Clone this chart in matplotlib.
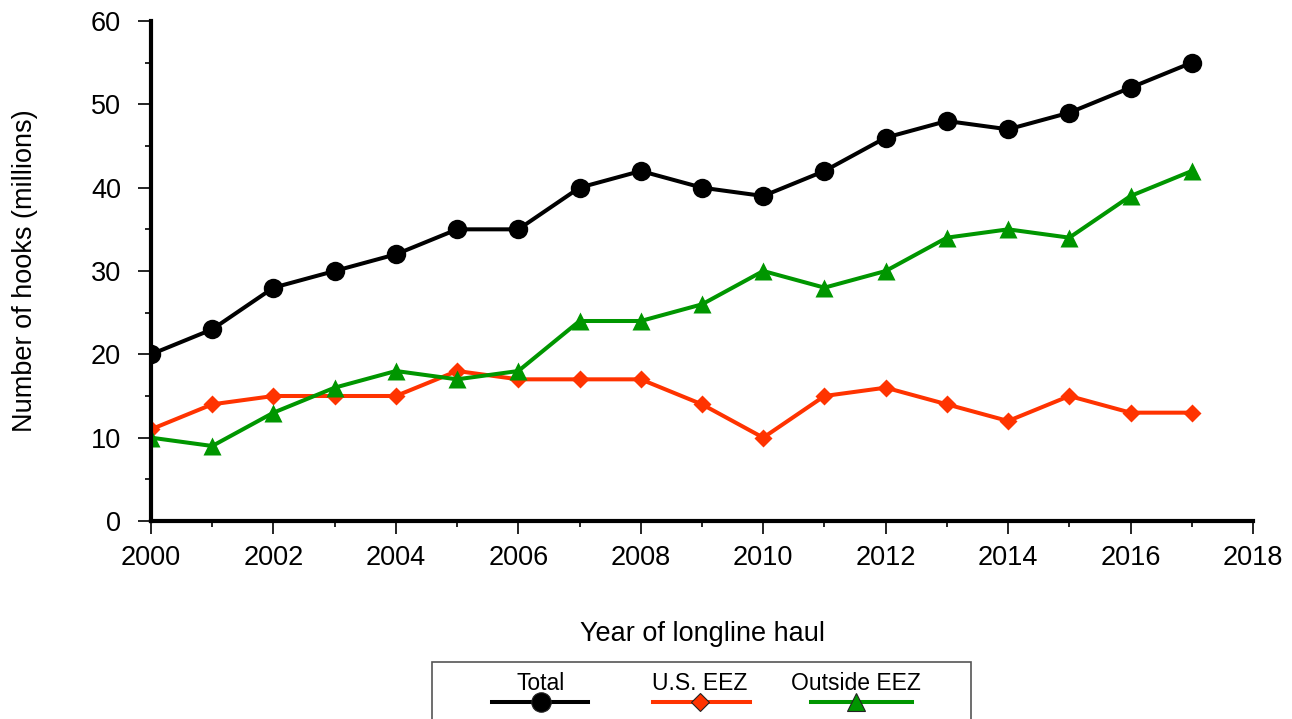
import matplotlib
matplotlib.use("Agg")
import matplotlib.pyplot as plt
from matplotlib.lines import Line2D
from matplotlib.patches import Rectangle
from matplotlib.ticker import MultipleLocator

plt.rcParams['font.family'] = ['Liberation Sans', 'DejaVu Sans']

years = list(range(2000, 2018))
total = [20, 23, 28, 30, 32, 35, 35, 40, 42, 40, 39, 42, 46, 48, 47, 49, 52, 55]
us_eez = [11, 14, 15, 15, 15, 18, 17, 17, 17, 14, 10, 15, 16, 14, 12, 15, 13, 13]
outside_eez = [10, 9, 13, 16, 18, 17, 18, 24, 24, 26, 30, 28, 30, 34, 35, 34, 39, 42]
series_names = ["Total", "U.S. EEZ", "Outside EEZ"]

c_black = "#000000"
c_red = "#FF3300"
c_green = "#009600"

W, H = 1292, 719
fig = plt.figure(figsize=(W / 100, H / 100), dpi=100)
ax = fig.add_axes([151 / W, 1 - 521 / H, (1253 - 151) / W, 500 / H])

LW = 2.9
ax.plot(years, total, color=c_black, lw=LW, marker='o', ms=14, mec='none', zorder=3)
ax.plot(years, us_eez, color=c_red, lw=LW, marker='D', ms=9.5, mec='none', zorder=3)
ax.plot(years, outside_eez, color=c_green, lw=LW, marker='^', ms=12.5, mec='none', zorder=3)

ax.set_xlim(2000, 2018)
ax.set_ylim(0, 60)
ax.xaxis.set_major_locator(MultipleLocator(2))
ax.xaxis.set_minor_locator(MultipleLocator(1))
ax.yaxis.set_major_locator(MultipleLocator(10))
ax.yaxis.set_minor_locator(MultipleLocator(5))
for s in ['top', 'right']:
    ax.spines[s].set_visible(False)
for s in ['left', 'bottom']:
    ax.spines[s].set_linewidth(3.0)
    ax.spines[s].set_zorder(4)
ax.tick_params(which='major', direction='out', length=9.5, width=1.2, labelsize=19.5)
ax.tick_params(which='minor', direction='out', length=4.5, width=1.2)
ax.tick_params(axis='x', which='major', pad=8)
ax.tick_params(axis='y', which='major', pad=12)

ax.set_xlabel("Year of longline haul", fontsize=19.5, labelpad=36)
ax.set_ylabel("Number of hooks (millions)", fontsize=19.5, labelpad=38)

# legend box (manual, labels above handles)
fig.patches.append(Rectangle((432 / W, 1 - 725 / H), (971 - 432) / W, (725 - 662) / H,
                             transform=fig.transFigure, fill=False, ec="#555555", lw=1.2))
entries = [
    (541, 492, 588, c_black, 'o', 14),
    (700, 653, 750, c_red, 'D', 9.5),
    (856, 811, 912, c_green, '^', 12.5),
]
for name, (cx, x0, x1, col, mk, ms) in zip(series_names, entries):
    fig.lines.append(Line2D([x0 / W, x1 / W], [1 - 702 / H] * 2, transform=fig.transFigure,
                            color=col, lw=LW))
    fig.lines.append(Line2D([cx / W], [1 - 702 / H], transform=fig.transFigure,
                            color=col, marker=mk, ms=ms, mec='#222222', mew=0.8, lw=0))
    fig.text(cx / W, 1 - 684 / H, name, ha='center', va='center', fontsize=16.5)

fig.savefig("out.png", dpi=100)
